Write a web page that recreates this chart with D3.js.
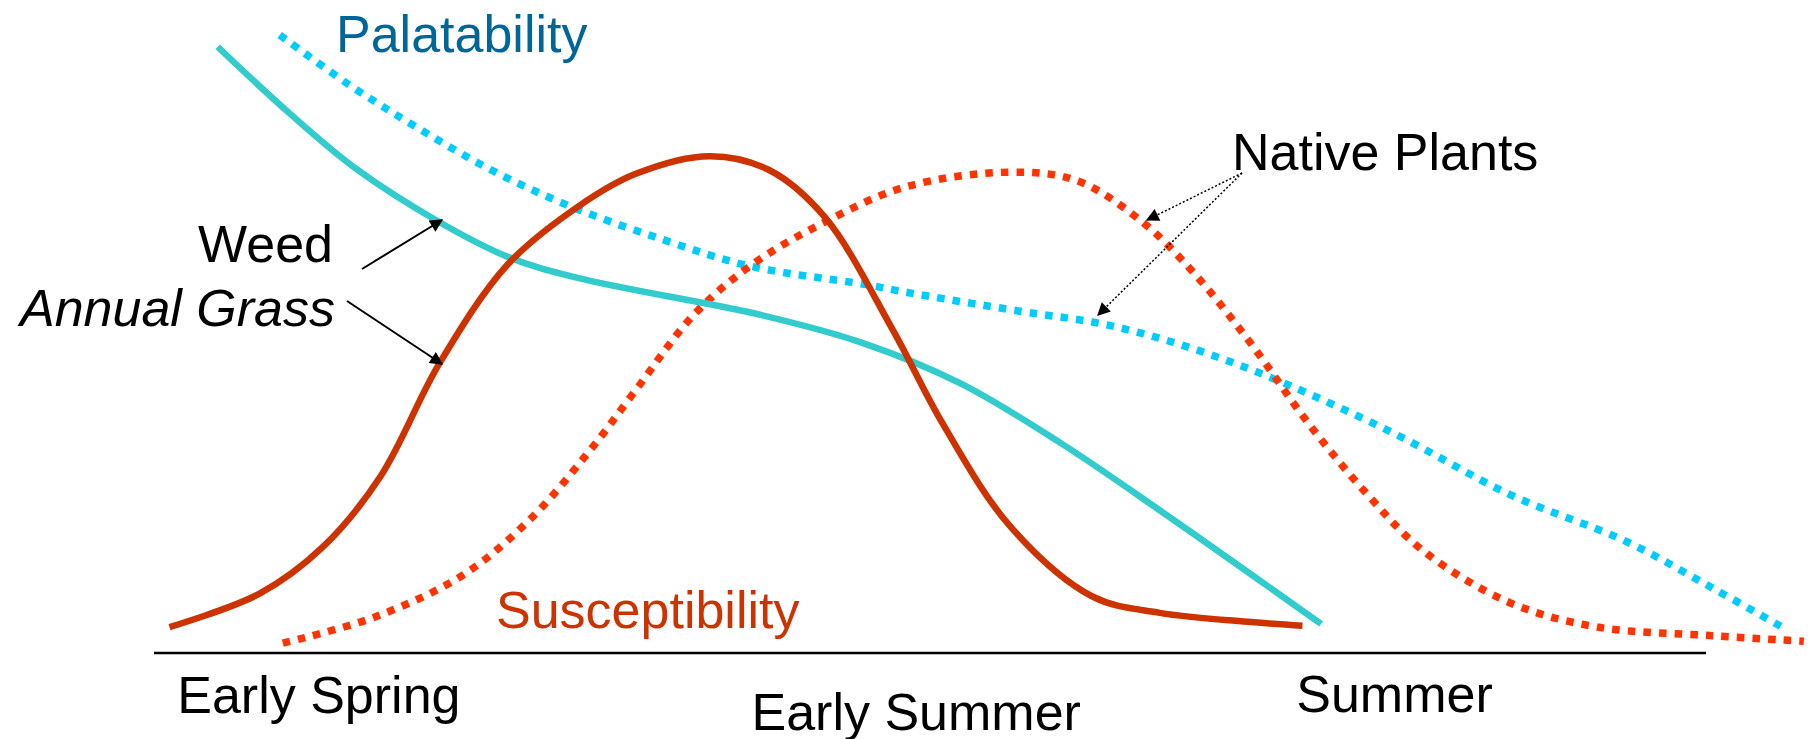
<!DOCTYPE html>
<html>
<head>
<meta charset="utf-8">
<script src="https://cdn.jsdelivr.net/npm/d3@7"></script>
<style>
  html, body { margin: 0; padding: 0; background: #fff; }
  svg { display: block; }
  text { font-family: "Liberation Sans", Arial, sans-serif; }
</style>
</head>
<body>
<svg id="chart" width="1810" height="739"></svg>
<script>
// ---------- DATA (time 0..100 along axis, value 0..100) ----------
const categories = ["Early Spring", "Early Summer", "Summer"];
const categoryTimes = [1.5, 38.5, 73.6];

const weedPalatabilityT = [4.1, 8.7, 13.1, 18.4, 22.8, 27.3, 39.1, 45.5, 51.9, 58.4, 64.8, 75.2];
const weedPalatabilityV = [98.1, 87.4, 78.2, 69.7, 64.1, 60.7, 54.7, 50.3, 43.7, 34.0, 23.1, 4.7];

const nativePalatabilityT = [8.1, 12.6, 16.9, 21.7, 26.9, 32.9, 38.4, 45.9, 48.4, 55.8, 61.4, 67.0, 72.6, 80.0, 87.4, 94.9, 100.5, 105.1];
const nativePalatabilityV = [100.0, 91.9, 85.1, 78.2, 72.2, 66.8, 62.6, 59.6, 58.4, 55.3, 53.1, 49.2, 43.9, 35.4, 25.6, 18.0, 10.4, 3.9];

const weedSusceptibilityT = [1.0, 6.8, 10.9, 14.6, 18.4, 22.8, 27.3, 31.0, 35.8, 39.6, 43.2, 47.6, 50.8, 55.2, 60.5, 64.8, 70.7, 74.0];
const weedSusceptibilityV = [4.2, 9.6, 17.2, 28.6, 46.9, 62.9, 72.2, 77.5, 80.4, 78.2, 70.6, 52.3, 37.2, 20.4, 9.1, 6.5, 5.0, 4.4];

const nativeSusceptibilityT = [8.3, 14.2, 19.9, 24.3, 28.0, 31.0, 34.7, 38.4, 43.2, 48.4, 55.1, 59.5, 63.7, 67.0, 70.7, 74.4, 78.2, 81.8, 87.4, 93.0, 100.5, 106.3];
const nativeSusceptibilityV = [1.6, 5.8, 12.6, 21.8, 32.5, 42.4, 54.5, 62.6, 69.7, 75.4, 77.8, 76.4, 69.7, 61.5, 50.0, 37.1, 25.6, 16.5, 8.1, 4.2, 2.8, 1.9];

// ---------- LAYOUT ----------
const svg = d3.select("#chart");
const x = d3.scaleLinear().domain([0, 100]).range([154, 1706]);
const y = d3.scaleLinear().domain([0, 100]).range([653, 35]);

const zip = (ts, vs) => ts.map((t, i) => [t, vs[i]]);
const line = d3.line()
  .x(d => x(d[0]))
  .y(d => y(d[1]))
  .curve(d3.curveCatmullRom.alpha(0.5));

const defs = svg.append("defs");
defs.append("marker")
  .attr("id", "arrow")
  .attr("viewBox", "0 0 10 10")
  .attr("refX", 9).attr("refY", 5)
  .attr("markerWidth", 16).attr("markerHeight", 13)
  .attr("markerUnits", "userSpaceOnUse")
  .attr("orient", "auto")
  .append("path").attr("d", "M0,0 L10,5 L0,10 Z").attr("fill", "#000");

// axis baseline
svg.append("line")
  .attr("x1", x(0)).attr("x2", x(100))
  .attr("y1", y(0)).attr("y2", y(0))
  .attr("stroke", "#000").attr("stroke-width", 2.5);

const series = [
  { t: nativePalatabilityT, v: nativePalatabilityV, color: "#00CCFF", dotted: true },
  { t: nativeSusceptibilityT, v: nativeSusceptibilityV, color: "#FF3300", dotted: true },
  { t: weedPalatabilityT, v: weedPalatabilityV, color: "#33CCCC", dotted: false },
  { t: weedSusceptibilityT, v: weedSusceptibilityV, color: "#CC3300", dotted: false }
];

series.forEach(s => {
  svg.append("path")
    .datum(zip(s.t, s.v))
    .attr("d", line)
    .attr("fill", "none")
    .attr("stroke", s.color)
    .attr("stroke-width", s.dotted ? 7.5 : 6.5)
    .attr("stroke-dasharray", s.dotted ? "7.5,8.1" : null)
    .attr("stroke-linecap", "butt");
});

// category labels
const labelBaselines = [713, 730, 712];
svg.selectAll("text.cat").data(categories).enter().append("text")
  .attr("class", "cat")
  .attr("x", (d, i) => x(categoryTimes[i]))
  .attr("y", (d, i) => labelBaselines[i])
  .attr("font-size", 52)
  .attr("fill", "#000")
  .text(d => d);

// titles
svg.append("text").attr("x", 336).attr("y", 52).attr("font-size", 52)
  .attr("fill", "#006699").text("Palatability");
svg.append("text").attr("x", 496).attr("y", 628).attr("font-size", 52)
  .attr("fill", "#CC3300").text("Susceptibility");

svg.append("text").attr("x", 333).attr("y", 262).attr("font-size", 52)
  .attr("text-anchor", "end").attr("fill", "#000").text("Weed");
svg.append("text").attr("x", 335).attr("y", 326).attr("font-size", 52)
  .attr("text-anchor", "end").attr("font-style", "italic").attr("fill", "#000").text("Annual Grass");

svg.append("text").attr("x", 1232).attr("y", 170).attr("font-size", 52)
  .attr("fill", "#000").text("Native Plants");

// annotation arrows
const arrows = [
  { x1: 362, y1: 269, x2: 442, y2: 220, dotted: false },
  { x1: 347, y1: 301, x2: 442, y2: 364, dotted: false },
  { x1: 1242, y1: 173, x2: 1147, y2: 220, dotted: true },
  { x1: 1242, y1: 173, x2: 1098, y2: 315, dotted: true }
];
arrows.forEach(a => {
  svg.append("line")
    .attr("x1", a.x1).attr("y1", a.y1).attr("x2", a.x2).attr("y2", a.y2)
    .attr("stroke", "#000")
    .attr("stroke-width", a.dotted ? 1.5 : 2)
    .attr("stroke-dasharray", a.dotted ? "2,2" : null)
    .attr("marker-end", "url(#arrow)");
});
</script>
</body>
</html>
